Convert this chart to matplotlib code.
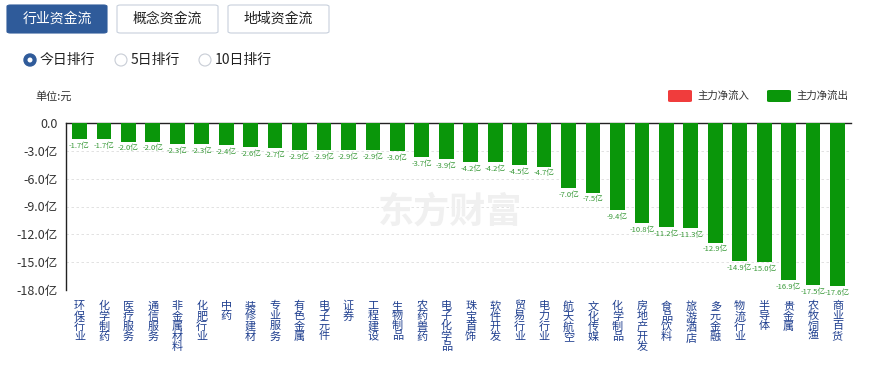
import matplotlib
matplotlib.use("Agg")
import matplotlib.pyplot as plt
from matplotlib.patches import FancyBboxPatch, Circle

plt.rcParams['font.family'] = ['Noto Sans CJK SC', 'DejaVu Sans']

# Data
industries = ['环保行业', '化学制药', '医疗服务', '通信服务', '非金属材料', '化肥行业', '中药',
              '装修建材', '专业服务', '有色金属', '电子元件', '证券', '工程建设', '生物制品',
              '农药兽药', '电子化学品', '珠宝首饰', '软件开发', '贸易行业', '电力行业',
              '航天航空', '文化传媒', '化学制品', '房地产开发', '食品饮料', '旅游酒店',
              '多元金融', '物流行业', '半导体', '贵金属', '农牧饲渔', '商业百货']
net_flow = [-1.7, -1.7, -2.0, -2.0, -2.3, -2.3, -2.4, -2.6, -2.7, -2.9, -2.9, -2.9, -2.9,
            -3.0, -3.7, -3.9, -4.2, -4.2, -4.5, -4.7, -7.0, -7.5, -9.4, -10.8, -11.2,
            -11.3, -12.9, -14.9, -15.0, -16.9, -17.5, -17.6]
yticks = [0, -3, -6, -9, -12, -15, -18]

W, H = 869, 366
fig = plt.figure(figsize=(W / 100, H / 100), dpi=100)

GREEN = '#0a960a'
BLUE = '#2f5b9a'


def px(x, y):
    return x / W, 1 - y / H


# tabs
tabs = [('行业资金流', 7, 107, True), ('概念资金流', 117, 218, False), ('地域资金流', 228, 329, False)]
for label, x0, x1, active in tabs:
    bx, by = px(x0, 33)
    box = FancyBboxPatch((bx, by), (x1 - x0) / W, 28 / H, transform=fig.transFigure,
                         boxstyle='round,pad=0,rounding_size=0.004',
                         facecolor=BLUE if active else 'white',
                         edgecolor=BLUE if active else '#c8d0dc', linewidth=0.8)
    fig.add_artist(box)
    tx, ty = px((x0 + x1) / 2, 19)
    fig.text(tx, ty, label, ha='center', va='center', fontsize=10,
             color='white' if active else '#222222')

# radio buttons
radios = [('今日排行', 30, True), ('5日排行', 121, False), ('10日排行', 205, False)]
for label, cx, sel in radios:
    x, y = px(cx, 60)
    if sel:
        fig.add_artist(Circle((cx, H - 60), 6, transform=None, facecolor=BLUE, edgecolor=BLUE))
        fig.add_artist(Circle((cx, H - 60), 2.5, transform=None, facecolor='white', edgecolor='none'))
    else:
        fig.add_artist(Circle((cx, H - 60), 6, transform=None, facecolor='white',
                              edgecolor='#c8cdd6', linewidth=0.8))
    fig.text(x + 10 / W, y, label, ha='left', va='center', fontsize=10, color='#222222')

fig.text(35 / W, 1 - 96 / H, '单位:元', ha='left', va='center', fontsize=8, color='#333333')

# legend
for (lab, col, x0) in [('主力净流入', '#f03c3c', 668), ('主力净流出', GREEN, 767)]:
    bx, by = px(x0, 102)
    fig.add_artist(FancyBboxPatch((bx, by), 24 / W, 12 / H, transform=fig.transFigure,
                                  boxstyle='round,pad=0,rounding_size=0.003',
                                  facecolor=col, edgecolor='none'))
    tx, ty = px(x0 + 29, 96)
    fig.text(tx, ty, lab, ha='left', va='center', fontsize=7.5, color='#333333')

# watermark
fig.text(450 / W, 1 - 212 / H, '东方财富', ha='center', va='center', fontsize=26,
         color='#f0f0f0', fontweight='bold', zorder=0)

# chart
ax = fig.add_axes([66 / W, 1 - 290 / H, (851 - 66) / W, (290 - 123) / H])
x = list(range(len(industries)))
ax.bar(x, net_flow, width=0.6, color=GREEN, zorder=3)
ax.set_xlim(-0.55, len(industries) - 0.45)
ax.set_ylim(-18, 0)
ax.set_yticks(yticks)
ax.set_yticklabels(['0.0'] + [f'{v:.1f}亿' for v in yticks[1:]], fontsize=9, color='#333333')
ax.set_xticks(x)
ax.set_xticklabels(['\n'.join(s) for s in industries], fontsize=8, color='#1f3f8f',
                   linespacing=1.0)
ax.tick_params(axis='x', length=0, pad=8)
ax.tick_params(axis='y', length=0, pad=6)
ax.grid(axis='y', color='#dddddd', linestyle=(0, (3, 3)), linewidth=0.6, zorder=0)
for s in ['right', 'bottom']:
    ax.spines[s].set_visible(False)
for s in ['top', 'left']:
    ax.spines[s].set_color('#222222')
    ax.spines[s].set_linewidth(1)
ax.set_facecolor('none')

for xi, v in zip(x, net_flow):
    ax.annotate(f'{v:.1f}亿', (xi, v), xytext=(0, -2), textcoords='offset points',
                ha='center', va='top', fontsize=5.5, color='#3a9a3a', zorder=4)

fig.savefig('out.png', dpi=100)
